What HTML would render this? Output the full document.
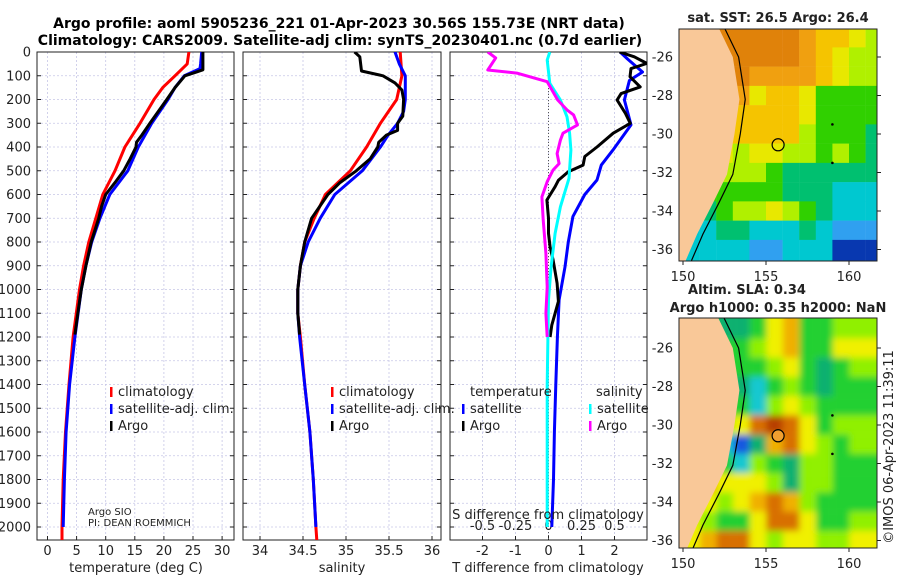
<!DOCTYPE html>
<html><head><meta charset="utf-8"><style>
body{margin:0;background:#fff}
svg{display:block;font-family:"DejaVu Sans","Liberation Sans",sans-serif}
</style></head><body>
<svg id="s" width="900" height="580" viewBox="0 0 900 580" xmlns="http://www.w3.org/2000/svg">
<defs>
<clipPath id="c1"><rect x="37" y="52" width="197" height="488"/></clipPath>
<clipPath id="c2"><rect x="243" y="52" width="198" height="488"/></clipPath>
<clipPath id="c3"><rect x="450" y="52" width="197" height="488"/></clipPath>
<clipPath id="m1"><rect x="679" y="29" width="198" height="232"/></clipPath>
<clipPath id="m2"><rect x="679" y="318" width="198" height="230"/></clipPath>
<filter id="bl" x="-5%" y="-5%" width="110%" height="110%"><feGaussianBlur stdDeviation="3.5"/></filter>
</defs>
<text x="339" y="28" text-anchor="middle" font-size="14" font-weight="bold">Argo profile: aoml 5905236_221 01-Apr-2023 30.56S 155.73E (NRT data)</text>
<text x="340" y="45" text-anchor="middle" font-size="14" font-weight="bold">Climatology: CARS2009. Satellite-adj clim: synTS_20230401.nc (0.7d earlier)</text>
<g id="root"></g>
</svg>
<script>
// ---------- profile data ----------
const tClimZ=[0,50,100,150,200,300,400,500,600,700,800,900,1000,1200,1400,1600,1800,2000,2055];
const tClimV=[24.3,24.0,21.9,19.8,18.3,15.9,13.3,11.6,9.5,8.3,7.1,6.2,5.5,4.4,3.7,3.1,2.7,2.5,2.5];
const tSatZ=[0,50,70,100,150,200,300,400,500,600,700,800,900,1000,1200,1400,1600,1800,2000];
const tSatV=[26.5,26.3,26.2,23.5,21.9,20.7,17.9,15.6,13.8,10.7,9.0,7.6,6.6,5.8,4.7,3.8,3.2,2.9,2.7];
const tArgoZ=[0,75,85,100,150,200,300,350,380,400,450,500,550,600,650,700,800,900,1000,1100,1190];
const tArgoV=[26.7,26.7,25.5,23.6,21.9,20.5,17.6,16.2,15.3,15.2,14.2,13.1,11.6,10.0,9.3,8.8,7.5,6.6,5.8,5.2,4.7];
const sClimZ=[0,100,200,300,400,500,600,700,800,900,1000,1100,1200,1400,1600,1800,2000,2055];
const sClimV=[35.63,35.65,35.59,35.40,35.24,35.05,34.76,34.63,34.52,34.47,34.44,34.44,34.47,34.52,34.58,34.62,34.65,34.66];
const sSatZ=[0,50,100,200,250,300,350,400,500,600,700,800,900,1000,1100,1200,1400,1600,1800,2000];
const sSatV=[35.57,35.62,35.69,35.69,35.67,35.60,35.49,35.40,35.19,34.87,34.70,34.56,34.47,34.44,34.44,34.46,34.52,34.58,34.62,34.65];
const sArgoZ=[0,20,80,100,130,160,200,270,300,330,350,380,400,450,500,550,600,700,800,900,1000,1100,1190];
const sArgoV=[35.10,35.16,35.18,35.43,35.57,35.65,35.67,35.66,35.60,35.60,35.47,35.38,35.37,35.28,35.12,34.93,34.79,34.60,34.52,34.47,34.44,34.44,34.46];
const dTSatZ=[0,30,84,120,202,307,413,476,539,600,693,800,905,1044,1200,1400,1600,1800,2000];
const dTSatV=[2.17,2.4,2.85,2.45,2.3,2.5,1.95,1.6,1.47,1.1,0.74,0.6,0.5,0.32,0.27,0.22,0.18,0.15,0.1];
const dTArgoZ=[0,20,48,70,104,147,175,202,258,300,342,400,440,476,504,540,567,623,700,764,820,876,974,1050,1100,1150,1200];
const dTArgoV=[2.15,2.6,2.98,2.5,2.47,2.78,2.2,2.08,2.33,2.48,1.96,1.47,1.1,1.05,0.6,0.3,0.2,-0.05,0.0,0.0,0.05,0.14,0.26,0.3,0.2,0.1,0.05];
const dSSatZ=[0,34,132,202,273,342,413,532,652,764,905,1044,1400,2000];
const dSSatV=[0.01,-0.01,0.01,0.09,0.14,0.16,0.17,0.155,0.09,0.05,0.02,0,-0.01,-0.01];
const dSArgoZ=[0,25,76,89,125,202,244,265,307,342,371,428,470,497,546,610,707,848,989,1100,1200];
const dSArgoV=[-0.46,-0.4,-0.46,-0.24,-0.01,0.07,0.14,0.19,0.22,0.11,0.09,0.065,0.08,0.035,-0.01,-0.05,-0.04,-0.02,-0.01,-0.02,-0.01];
const depthTicks=[0,100,200,300,400,500,600,700,800,900,1000,1100,1200,1300,1400,1500,1600,1700,1800,1900,2000];
const tTicks=[0,5,10,15,20,25,30];
const sTicks=[34,34.5,35,35.5,36];
const sTickLabels=["34","34.5","35","35.5","36"];
const dTTicks=[-2,-1,0,1,2];
const dSTicks=[-0.5,-0.25,0,0.25,0.5];
const dSTickLabels=["-0.5","-0.25","0","0.25","0.5"];
// ---------- map data ----------
const mapLons=[150,151,152,153,154,155,156,157,158,159,160,161];
const mapLats=[-25,-26,-27,-28,-29,-30,-31,-32,-33,-34,-35,-36];
const sstGrid=[
[9,9,9,9,9,9,9,8,7,7,6,5],
[9,9,9,9,9,9,9,8,7,6,5,5],
[9,9,9,9,8,8,8,8,7,6,5,5],
[8,8,8,8,6,7,7,6,4,4,4,4],
[7,7,7,7,7,7,7,6,4,4,4,4],
[7,7,7,7,7,7,7,5,4,4,4,3],
[6,6,6,5,6,6,5,5,4,5,4,3],
[5,5,5,5,5,4,3,3,3,3,3,3],
[4,4,4,4,4,4,3,3,3,2,2,2],
[3,3,4,5,5,6,5,4,3,2,2,2],
[2,2,3,3,2,2,2,3,2,1,1,1],
[2,2,2,2,1,1,2,2,2,0,0,0]];
const slaGrid=[
[4,4,4,3,3,4,6,7,4,4,5,5],
[4,4,4,4,4,5,6,7,4,4,6,6],
[4,4,4,4,4,4,5,6,4,3,4,5],
[4,4,4,4,3,2,4,5,4,3,4,4],
[4,4,4,4,4,2,5,6,5,4,4,4],
[4,4,4,5,6,8,9,8,6,4,5,5],
[4,4,4,2,0,3,7,8,6,5,4,5],
[5,5,5,4,2,5,4,3,5,5,4,4],
[6,6,7,6,6,6,5,3,5,5,4,4],
[6,6,6,5,6,7,8,7,5,4,4,4],
[6,6,5,4,4,6,8,8,6,4,4,5],
[6,6,7,8,8,6,5,6,6,5,5,6]];
const coastLon=[152.1,153.0,153.4,153.1,152.65,151.8,150.85,150.1];
const coastLat=[-24.4,-26,-28.2,-30,-32.1,-33.6,-35.2,-36.7];
const argoLon=155.73, argoLat=-30.56;
const latTicks=[-26,-28,-30,-32,-34,-36];
const lonTicks=[150,155,160];

const NS="http://www.w3.org/2000/svg";
const root=document.getElementById('root');
function E(tag,a,p){const e=document.createElementNS(NS,tag);for(const k in a)e.setAttribute(k,a[k]);(p||root).appendChild(e);return e;}
const yD=d=>52+d*0.2375;
const xT=v=>47.5+v*5.82, xS=v=>260+(v-34)*86, xDT=v=>548.5+v*33, xDS=v=>548.5+v*132;
const panels=[{x:37,w:197,clip:'c1',xs:xT,ticks:tTicks,labels:tTicks.map(String),name:'temperature'},
{x:243,w:198,clip:'c2',xs:xS,ticks:sTicks,labels:sTickLabels,name:'salinity'},
{x:450,w:197,clip:'c3',xs:xDT,ticks:dTTicks,labels:dTTicks.map(String),name:'difference'}];
panels.forEach((p,i)=>{
  const g=E('g',{});
  
  
  depthTicks.forEach(d=>{const l=E('line',{x1:p.x,x2:p.x+p.w,y1:yD(d),y2:yD(d),stroke:'#c6c6e6','stroke-width':0.8,'stroke-dasharray':'2,2'},g);
    
    
    const t1=E('line',{x1:p.x,x2:p.x+4,y1:yD(d),y2:yD(d),stroke:'#222'},g);
    
    
    const t2=E('line',{x1:p.x+p.w-4,x2:p.x+p.w,y1:yD(d),y2:yD(d),stroke:'#222'},g);
    
    
    if(i==0){const t=E('text',{x:31,y:yD(d)+4.5,'text-anchor':'end','font-size':13,fill:'#222'},g);t.textContent=d;
      
      }
  });
  p.ticks.forEach((v,j)=>{const x=p.xs(v);
    const l=E('line',{x1:x,x2:x,y1:52,y2:540,stroke:'#c6c6e6','stroke-width':0.8,'stroke-dasharray':'2,2'},g);
    
    
    const t=E('line',{x1:x,x2:x,y1:536,y2:540,stroke:'#222'},g);
    
    
    const tx=E('text',{x:x,y:555,'text-anchor':'middle','font-size':13,fill:'#222'},g);tx.textContent=p.labels[j];
    
    
  });
  const b=E('rect',{x:p.x,y:52,width:p.w,height:488,fill:'none',stroke:'#222','stroke-width':1},g);
  
  
});
const zl=E('line',{x1:xDT(0),x2:xDT(0),y1:52,y2:540,stroke:'#555','stroke-dasharray':'1,2'});


dSTicks.forEach((v,j)=>{const t=E('text',{x:xDS(v),y:530,'text-anchor':'middle','font-size':13,fill:'#222'});t.textContent=dSTickLabels[j];
  
  });
function line(zs,vs,xs,color,clip,name){
  const pts=zs.map((z,k)=>xs(vs[k]).toFixed(1)+','+yD(z).toFixed(1)).join(' ');
  const pl=E('polyline',{points:pts,fill:'none',stroke:color,'stroke-width':3,'stroke-linejoin':'round','clip-path':'url(#'+clip+')'});
  
  
}
line(tClimZ,tClimV,xT,'#ff0000','c1','temp-climatology-line');
line(tSatZ,tSatV,xT,'#0000ff','c1','temp-satellite-line');
line(tArgoZ,tArgoV,xT,'#000','c1','temp-argo-line');
line(sClimZ,sClimV,xS,'#ff0000','c2','sal-climatology-line');
line(sSatZ,sSatV,xS,'#0000ff','c2','sal-satellite-line');
line(sArgoZ,sArgoV,xS,'#000','c2','sal-argo-line');
line(dTSatZ,dTSatV,xDT,'#0000ff','c3','tdiff-satellite-line');
line(dTArgoZ,dTArgoV,xDT,'#000','c3','tdiff-argo-line');
line(dSSatZ,dSSatV,xDS,'#00ffff','c3','sdiff-satellite-line');
line(dSArgoZ,dSArgoV,xDS,'#ff00ff','c3','sdiff-argo-line');
function leg(x,y,color,label){
  const m=E('rect',{x:x,y:y-9,width:2.5,height:10,fill:color});
  
  
  const t=E('text',{x:x+8,y:y,'font-size':13,fill:'#222'});t.textContent=label;
  
  
}
function txt(x,y,s,sz,name,anchor){const t=E('text',{x:x,y:y,'font-size':sz,fill:'#222','text-anchor':anchor||'start'});t.textContent=s;
  
  return t;}
leg(110,396,'#ff0000','climatology');leg(110,413,'#0000ff','satellite-adj. clim.');leg(110,430,'#000','Argo');
leg(331,396,'#ff0000','climatology');leg(331,413,'#0000ff','satellite-adj. clim.');leg(331,430,'#000','Argo');
txt(470,396,'temperature',13,'legend-title-temperature');
leg(462,413,'#0000ff','satellite');leg(462,430,'#000','Argo');
txt(596,396,'salinity',13,'legend-title-salinity');
leg(589,413,'#00ffff','satellite');leg(589,430,'#ff00ff','Argo');
txt(88,515,'Argo SIO',10,'institution-label');
txt(88,526,'PI: DEAN ROEMMICH',10,'pi-label');
txt(548,519,'S difference from climatology',13,'s-diff-axis-title','middle');
txt(136,572,'temperature (deg C)',13,'x-axis-title-temperature','middle');
txt(342,572,'salinity',13,'x-axis-title-salinity','middle');
txt(548,572,'T difference from climatology',13,'x-axis-title-tdiff','middle');
const sstCols=['#0838b0','#30a0f0','#00c8d0','#00c070','#30d000','#b0f000','#e8e800','#f5c400','#f0a010','#e0820a'];
const slaCols=['#1858e0','#20a0e8','#18c8d0','#10b070','#20d030','#90f000','#f0f000','#f0b000','#d87000','#b84000'];
function drawMap(grid,cols,clip,top,lat26y,blur,circleFill,name){
  const sx=lon=>683+(lon-150)*16.6, sy=lat=>lat26y+(-26-lat)*19.25;
  const g=E('g',{'clip-path':'url(#'+clip+')'});
  
  
  const f=E('g',blur?{filter:'url(#bl)'}:{},g);
  mapLats.forEach((lat,r)=>mapLons.forEach((lon,c)=>{
    const x0=sx(lon-(blur?0.5:0)), y0=sy(lat+0.5);
    const cell=E('rect',{x:x0-(blur?8:0),y:y0-(blur&&r==0?10:0),width:16.8+(blur&&c==11?30:0)+(blur&&c==0?8:0),height:19.5+(r==11?20:0)+(blur&&r==0?10:0),fill:cols[grid[r][c]]},f);
    
    
  }));
  const land=coastLon.map((l,k)=>sx(l)+','+sy(coastLat[k])).join(' ')+' '+sx(149)+','+sy(-37)+' '+sx(149)+','+sy(-24);
  const lp=E('polygon',{points:land,fill:'#f9c898'},g);
  
  
  const cont=coastLon.map((l,k)=>sx(l+0.35)+','+sy(coastLat[k])).join(' ');
  const cp=E('polyline',{points:cont,fill:'none',stroke:'#000','stroke-width':1.2},g);
  
  
  const ci=E('circle',{cx:sx(argoLon),cy:sy(argoLat),r:6,fill:circleFill,stroke:'#000','stroke-width':1.2},g);
  
  
  [-29.5,-31.5].forEach(la=>{const d=E('circle',{cx:sx(159),cy:sy(la),r:1.3,fill:'#000'},g);
    
    });
  const h=clip=='m1'?232:230;
  const fr=E('rect',{x:679,y:top,width:198,height:h,fill:'none',stroke:'#222'});
  
  
  latTicks.forEach(la=>{const y=sy(la);
    txt(673,y+4.5,String(la),13,'lat-tick-label','end');
    const tk=E('line',{x1:877,x2:881,y1:y,y2:y,stroke:'#222'});
    
    });
  lonTicks.forEach(lo=>{const x=sx(lo);
    txt(x,top+h+20,String(lo),13,'lon-tick-label','middle');
    const tk=E('line',{x1:x,x2:x,y1:top+h,y2:top+h+4,stroke:'#222'});
    
    });
}
drawMap(sstGrid,sstCols,'m1',29,57,false,'none','sst-map');
drawMap(slaGrid,slaCols,'m2',318,348,true,'#f0a030','sla-map');
const t1=txt(778,22,'sat. SST: 26.5 Argo: 26.4',13,'sst-map-title','middle');t1.setAttribute('font-weight','bold');
const t2=txt(747,294,'Altim. SLA: 0.34',13,'sla-map-title','middle');t2.setAttribute('font-weight','bold');
const t3=txt(778,312,'Argo h1000: 0.35 h2000: NaN',13,'sla-map-subtitle','middle');t3.setAttribute('font-weight','bold');
const rt=txt(0,0,'©IMOS 06-Apr-2023 11:39:11',13,'timestamp-label','middle');
rt.setAttribute('transform','translate(893,447) rotate(-90)');
</script>
</body></html>
